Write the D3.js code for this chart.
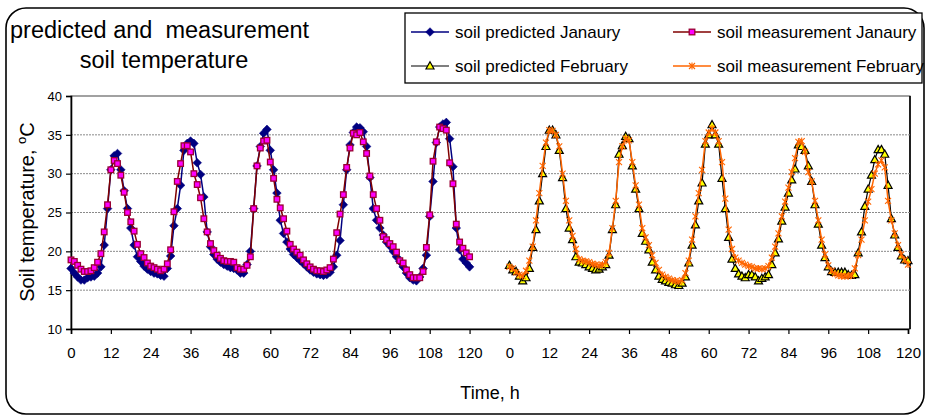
<!DOCTYPE html>
<html><head><meta charset="utf-8">
<script src="https://cdn.jsdelivr.net/npm/d3@7"></script>
<style>body{margin:0;background:#fff;} text{font-family:Arial,"Liberation Sans",sans-serif;fill:#000;}</style>
</head><body><svg id="c" width="927" height="419"></svg>
<script>
// ---- data (hourly, 0..120 h) ----
const janPredicted = [17.8,17.2,16.7,16.3,16.3,16.6,16.7,16.8,17.2,18.0,20.8,25.5,30.5,32.3,32.6,30.5,27.8,25.5,23.0,20.8,19.3,18.7,18.1,17.7,17.4,17.2,17.1,16.9,16.8,17.8,19.4,23.3,25.5,28.5,33.0,33.9,34.2,33.9,31.4,29.9,27.0,22.5,20.6,19.6,19.0,18.6,18.3,18.1,17.9,17.8,17.6,17.2,17.2,18.3,20.0,25.5,31.0,33.5,35.2,35.7,33.0,30.5,27.5,24.0,22.3,21.2,20.3,19.6,19.2,18.8,18.4,18.0,17.6,17.3,17.1,17.0,16.9,17.0,17.3,18.0,19.5,21.4,26.0,30.5,33.7,35.3,36.0,35.9,35.4,33.5,29.5,25.5,24.0,23.0,22.1,21.2,20.7,20.0,19.3,18.7,18.0,17.2,16.6,16.3,16.2,16.7,17.8,19.5,24.5,29.0,34.0,36.0,36.4,36.6,34.5,30.9,23.0,20.2,19.0,18.5,18.0];
const janMeasured = [18.9,18.7,18.2,17.7,17.4,17.4,17.5,17.9,18.6,19.7,22.5,26.0,30.5,31.7,31.3,29.8,27.6,25.0,23.8,22.6,20.9,19.7,19.2,18.5,18.1,17.9,17.7,17.5,17.7,18.4,20.2,25.1,29.0,31.3,33.6,33.6,32.8,30.0,28.6,26.9,24.2,22.5,21.0,20.1,19.5,19.1,18.8,18.7,18.7,18.6,17.9,17.7,17.7,18.2,19.3,25.5,31.0,33.3,34.2,34.3,31.5,29.4,26.7,25.6,24.2,22.6,20.9,20.3,19.9,19.5,18.9,18.4,18.0,17.7,17.5,17.5,17.4,17.6,17.9,19.0,22.4,24.8,27.3,30.8,33.3,35.2,35.0,35.3,34.1,32.6,29.7,27.3,25.5,24.0,21.9,21.5,21.0,20.6,19.9,18.8,18.5,17.6,17.0,16.6,16.6,16.6,17.4,20.5,24.7,31.6,34.1,36.0,35.8,35.6,31.4,28.7,23.5,21.2,20.4,19.8,19.3];
const febPredicted = [18.2,17.6,17.4,16.8,16.2,16.6,17.8,20.5,22.8,26.5,30.0,33.5,35.6,35.6,35.0,33.0,29.5,25.5,23.0,21.5,19.3,18.6,18.5,18.3,18.0,17.8,17.6,17.7,18.0,18.3,19.5,22.8,26.0,32.5,33.6,34.8,34.5,31.0,28.0,25.5,22.3,21.3,20.2,18.6,17.6,16.8,16.4,16.2,16.0,15.9,15.7,15.6,15.9,16.7,18.5,20.8,23.4,26.5,28.8,33.8,35.0,36.3,35.0,33.8,29.4,25.5,21.8,19.0,17.8,17.1,16.8,16.6,17.0,17.0,16.7,16.2,16.5,16.7,17.0,18.3,19.8,21.6,23.9,25.7,27.5,29.2,30.6,33.7,33.5,33.0,31.0,29.0,26.0,23.5,20.8,19.2,18.0,17.4,17.3,17.3,17.3,17.3,17.0,16.9,17.0,19.8,22.5,25.8,28.0,29.8,31.8,33.1,33.1,32.5,28.5,24.2,22.1,20.5,19.4,18.9,18.8];
const febMeasured = [18.0,17.8,17.3,17.0,16.8,17.5,18.8,20.6,24.0,27.5,31.0,34.0,35.6,35.5,35.0,33.5,30.0,26.5,24.0,22.0,20.3,19.0,18.8,18.7,18.6,18.4,18.3,18.2,18.3,18.6,19.8,23.0,26.5,31.5,33.5,34.5,34.3,31.5,28.5,26.0,23.0,21.8,20.8,19.5,18.5,17.6,17.0,16.7,16.5,16.3,16.2,16.1,16.3,17.2,18.8,21.5,24.5,27.5,30.5,34.2,35.3,35.8,35.3,34.2,31.5,26.8,22.8,20.3,19.2,18.8,18.5,18.3,18.1,18.0,17.8,17.8,17.7,17.8,18.1,19.2,20.6,22.3,24.5,26.4,28.2,30.2,32.0,34.1,34.2,32.8,30.2,29.0,26.5,24.0,21.5,19.6,18.2,17.5,17.1,16.9,16.8,16.8,16.8,16.9,17.8,19.5,21.5,24.0,26.4,28.0,30.0,31.2,31.7,30.8,26.5,24.0,22.3,20.8,19.6,18.9,18.3];
const seriesNames = ["soil predicted Janaury","soil measurement Janaury","soil predicted February","soil measurement February"];
const tickLabels = [0,12,24,36,48,60,72,84,96,108,120];
const yTicks = [10,15,20,25,30,35,40];
const titleLines = ["predicted and  measurement","soil temperature"];
const yTitle = "Soil temperature, ";
const xTitle = "Time, h";

// ---- layout ----
const svg = d3.select("#c");
const L=71,R=908,T=96,B=329;
const blockGap = 12; // hours gap between the two months on the shared axis
const febStart = tickLabels[tickLabels.length-1] + blockGap;
const x = d3.scaleLinear().domain([0, febStart + tickLabels[tickLabels.length-1]]).range([L,R]);
const y = d3.scaleLinear().domain([10,40]).range([B,T]);

// outer frame
svg.append("rect").attr("x",6).attr("y",8).attr("width",918).attr("height",406).attr("rx",20)
  .attr("fill","#fff").attr("stroke","#000").attr("stroke-width",1.6);

// title
svg.append("text").attr("x",10).attr("y",38).attr("font-size",23.5).style("white-space","pre").attr("xml:space","preserve").text(titleLines[0]);
svg.append("text").attr("x",164).attr("y",68).attr("font-size",23.5).attr("text-anchor","middle").text(titleLines[1]);

// plot area
svg.append("rect").attr("x",L).attr("y",T).attr("width",R-L+2).attr("height",B-T)
  .attr("fill","#fff").attr("stroke","#444").attr("stroke-width",1);
svg.append("line").attr("x1",R+2).attr("x2",R+2).attr("y1",T).attr("y2",B).attr("stroke","#000").attr("stroke-width",1.6);

// gridlines
svg.append("g").selectAll("line").data(yTicks.filter(v=>v>10&&v<40)).join("line")
  .attr("x1",L).attr("x2",R+2).attr("y1",d=>y(d)).attr("y2",d=>y(d))
  .attr("stroke","#8a8a8a").attr("stroke-width",1).attr("stroke-dasharray","2,1");

// y axis
const yAxis = d3.axisLeft(y).tickValues(yTicks).tickSize(5).tickPadding(4);
const gy = svg.append("g").attr("transform",`translate(${L},0)`).call(yAxis);
gy.select(".domain").attr("stroke","#000").attr("stroke-width",1.6);
gy.selectAll(".tick line").attr("stroke","#000").attr("stroke-width",1.2);
gy.selectAll(".tick text").attr("font-size",13).attr("font-family","Arial, 'Liberation Sans', sans-serif");

// x axis
const allTicks = tickLabels.map(v=>({pos:v,label:v})).concat(tickLabels.map(v=>({pos:v+febStart,label:v})));
const xAxis = d3.axisBottom(x).tickValues(allTicks.map(d=>d.pos)).tickSize(5).tickPadding(13)
  .tickFormat((d,i)=>allTicks[i].label);
const gx = svg.append("g").attr("transform",`translate(0,${B})`).call(xAxis);
gx.select(".domain").attr("stroke","#000").attr("stroke-width",1.6);
gx.selectAll(".tick line").attr("stroke","#000").attr("stroke-width",1.2);
gx.selectAll(".tick text").attr("font-size",15).attr("font-family","Arial, 'Liberation Sans', sans-serif");

// axis titles
svg.append("text").attr("transform",`translate(34,212) rotate(-90)`).attr("text-anchor","middle").attr("font-size",20)
  .call(t=>{t.append("tspan").text(yTitle+"");t.append("tspan").attr("font-size",13).attr("dy",-8).text("o");t.append("tspan").attr("dy",8).text("C");});
svg.append("text").attr("x",490).attr("y",399).attr("text-anchor","middle").attr("font-size",18).text(xTitle);

// series
const line = off => d3.line().x((d,i)=>x(i+off)).y(d=>y(d));
const clipG = svg.append("g");
function drawSeries(data, off, color, width, marker){
  const g = clipG.append("g");
  g.append("path").datum(data).attr("d",line(off)).attr("fill","none").attr("stroke",color).attr("stroke-width",width).attr("stroke-linejoin","round");
  g.selectAll("g.m").data(data).join("g").attr("transform",(d,i)=>`translate(${x(i+off)},${y(d)})`).each(function(){marker(d3.select(this));});
}
const diamond = s=>s.append("path").attr("d","M0,-4.3L4.3,0L0,4.3L-4.3,0Z").attr("fill","#000080").attr("stroke","#000080").attr("stroke-width",0.6);
const square = s=>s.append("rect").attr("x",-2.8).attr("y",-2.8).attr("width",5.6).attr("height",5.6).attr("fill","#ff00ff").attr("stroke","#990033").attr("stroke-width",1.3);
const triangle = s=>s.append("path").attr("d","M0,-4.2L4,3L-4,3Z").attr("fill","#ffff00").attr("stroke","#000").attr("stroke-width",1.2);
const star = s=>s.append("path").attr("d","M-3,-3L3,3M-3,3L3,-3M0,-3.5L0,3.5").attr("stroke","#ff6600").attr("stroke-width",1.1).attr("fill","none");

drawSeries(janPredicted,0,"#000080",1.5,diamond);
drawSeries(janMeasured,0,"#800000",1.5,square);
drawSeries(febPredicted,febStart,"#000",1.2,triangle);
drawSeries(febMeasured,febStart,"#ff6600",1.5,star);

// legend
const lg = svg.append("g");
lg.append("rect").attr("x",405).attr("y",13).attr("width",517).attr("height",70).attr("fill","#fff").attr("stroke","#000").attr("stroke-width",1.3);
const legendItems = [
  {name:seriesNames[0],color:"#000080",w:1.5,m:diamond,x:411,y:32},
  {name:seriesNames[1],color:"#800000",w:1.5,m:square,x:673,y:32},
  {name:seriesNames[2],color:"#000",w:1.2,m:triangle,x:411,y:66},
  {name:seriesNames[3],color:"#ff6600",w:1.5,m:star,x:673,y:66}];
legendItems.forEach(it=>{
  const g = lg.append("g").attr("transform",`translate(${it.x},${it.y})`);
  g.append("line").attr("x1",0).attr("x2",38).attr("stroke",it.color).attr("stroke-width",it.w);
  it.m(g.append("g").attr("transform","translate(19,0)"));
  g.append("text").attr("x",44).attr("y",6).attr("font-size",17).text(it.name);
});
</script></body></html>
